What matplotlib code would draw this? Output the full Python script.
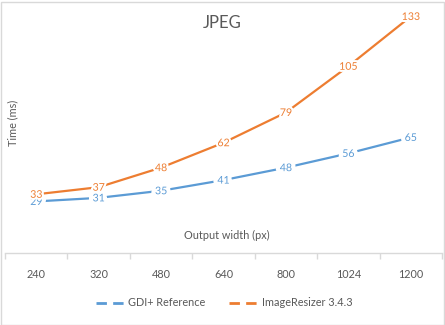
import matplotlib
matplotlib.use("Agg")
import matplotlib.pyplot as plt
import matplotlib.patheffects as pe
from matplotlib.lines import Line2D
from matplotlib.patches import Rectangle

plt.rcParams['font.family'] = ['Lato', 'DejaVu Sans']
plt.rcParams['lines.scale_dashes'] = False

categories = ["240", "320", "480", "640", "800", "1024", "1200"]
gdi = [29, 31, 35, 41, 48, 56, 65]
ir = [33, 37, 48, 62, 79, 105, 133]
series_names = ["GDI+ Reference", "ImageResizer 3.4.3"]

BLUE = "#5B9BD5"
ORANGE = "#ED7D31"
TEXT = "#595959"
GRID = "#D9D9D9"

W, H = 445, 325
fig = plt.figure(figsize=(W / 100, H / 100), dpi=100)
fig.add_artist(Rectangle((0.5 / W, 0.5 / H), 1 - 2 / W, 1 - 2 / H, transform=fig.transFigure,
                         fill=False, edgecolor=GRID, linewidth=1))

ax_left, ax_right = 5, 442
ax_bottom, ax_top = 253, 4
ax = fig.add_axes([ax_left / W, 1 - ax_bottom / H, (ax_right - ax_left) / W, (ax_bottom - ax_top) / H])
ax.set_xlim(-0.5, len(categories) - 0.5)
ax.set_ylim(0, 140)

x = list(range(len(categories)))
ax.plot(x, gdi, color=BLUE, lw=1.6, zorder=2, solid_capstyle='round')
ax.plot(x, ir, color=ORANGE, lw=1.6, zorder=2, solid_capstyle='round')

FS = 7.8
LFS = 7.6
# labels sit on their points, with a white halo breaking the line
for xi, v in zip(x, gdi):
    ax.text(xi, v, str(v), ha='center', va='center', fontsize=LFS, color=BLUE, zorder=3,
            path_effects=[pe.withStroke(linewidth=6, foreground='white')])
for xi, v in zip(x, ir):
    ax.text(xi, v, str(v), ha='center', va='center', fontsize=LFS, color=ORANGE, zorder=4,
            path_effects=[pe.withStroke(linewidth=3, foreground='white')])

for s in ['top', 'right', 'left']:
    ax.spines[s].set_visible(False)
ax.spines['bottom'].set_color(GRID)
ax.spines['bottom'].set_linewidth(1)
ax.set_yticks([])
ax.set_xticks(x)
ax.set_xticklabels(categories)
ax.set_xticks([i - 0.5 for i in range(len(categories) + 1)], minor=True)
ax.tick_params(axis='x', which='major', length=0, pad=11.5, labelsize=FS, labelcolor=TEXT)
ax.tick_params(axis='x', which='minor', length=4, color=GRID, width=1)

fig.text(222 / W, 1 - 23 / H, "JPEG", ha='center', va='center', fontsize=12, color=TEXT)
fig.text(227 / W, 1 - 235 / H, "Output width (px)", ha='center', va='center', fontsize=FS, color=TEXT)
fig.text(13 / W, 1 - 123 / H, "Time (ms)", ha='center', va='center', rotation=90, fontsize=FS, color=TEXT)

handles = [Line2D([], [], color=BLUE, lw=2, dashes=(7.5, 4.5)),
           Line2D([], [], color=ORANGE, lw=2, dashes=(7.5, 4.5))]
fig.legend(handles, series_names, loc='center', bbox_to_anchor=(224 / W, 1 - 303 / H), ncol=2,
           frameon=False, fontsize=FS, labelcolor=TEXT, handlelength=2.9, handletextpad=0.1,
           columnspacing=2.2)

fig.savefig("out.png", dpi=100)
